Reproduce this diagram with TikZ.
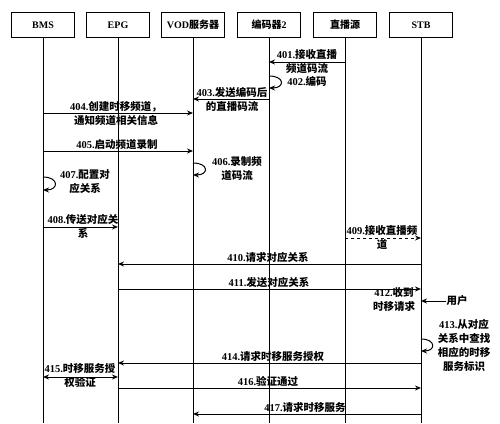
\documentclass[tikz,border=0pt]{standalone}
\usepackage{fontspec}
\setmainfont{Liberation Serif}
\newfontfamily\cjk{Noto Sans CJK SC}
\usetikzlibrary{arrows.meta,calc,positioning}
\newcommand{\nb}[1]{{\rmfamily #1}}
\tikzset{
  ent/.style={draw, line width=1pt, minimum width=63pt, minimum height=25pt, inner sep=0pt, font=\bfseries\fontsize{10}{12}\selectfont},
  life/.style={line width=1pt},
  msg/.style={line width=1pt, -{Stealth[length=6pt, width=5pt]}},
  lbl/.style={font=\bfseries\cjk\fontsize{10.5}{14}\selectfont, inner sep=0pt, align=center}
}
\begin{document}
\begin{tikzpicture}[x=1pt,y=-1pt]
  % picture size and bottom of the lifelines
  \def\ybot{423}
  \def\ytop{25}
  \useasboundingbox (0,0) rectangle (500,423);

  % boxes and lifelines
  \foreach \nm/\xx/\tx in {bms/43/BMS, epg/118/EPG, vod/193/VOD{\cjk 服务器}, enc/269/{\cjk 编码器}2, src/345/{\cjk 直播源}, stb/421/STB} {
    \node[ent] (\nm) at (\xx,\ytop) {\tx};
    \draw[life] (\nm.south) -- (\nm.south |- 0,\ybot);
  }

  % 401 - 403: encoder
  \draw[msg] (src |- 0,62) -- (enc |- 0,62);
  \node[lbl] (l401) at (307,62) {\nb{401.}接收直播\\频道码流};
  \draw[msg] (enc |- 0,76) .. controls +(16,0) and +(16,0) .. (enc |- 0,88);
  \node[lbl] (l402) at (307,81) {\nb{402.}编码};
  \draw[msg] (enc |- 0,99) -- (vod |- 0,99);
  \node[lbl] (l403) at (232,99.5) {\nb{403.}发送编码后\\的直播码流};

  % 404 - 407: channel set up
  \draw[msg] (bms |- 0,113) -- (vod |- 0,113);
  \node[lbl] (l404) at (116,113.5) {\nb{404.}创建时移频道，\\通知频道相关信息};
  \draw[msg] (bms |- 0,151) -- (vod |- 0,151);
  \node[lbl, above] (l405) at (117,150) {\nb{405.}启动频道录制};
  \draw[msg] (vod |- 0,163) .. controls +(16,0) and +(16,0) .. (vod |- 0,175);
  \node[lbl] (l406) at (237,169) {\nb{406.}录制频\\道码流};
  \draw[msg] (bms |- 0,177) .. controls +(16,0) and +(16,0) .. (bms |- 0,190);
  \node[lbl] (l407) at (85,182) {\nb{407.}配置对\\应关系};

  % 408 - 411: correspondence
  \draw[msg] (bms |- 0,227) -- (epg |- 0,227);
  \node[lbl] (l408) at (83,226.5) {\nb{408.}传送对应关\\系};
  \draw[msg, dashed] (src |- 0,238) -- (stb |- 0,238);
  \node[lbl] (l409) at (382,238) {\nb{409.}接收直播频\\道};
  \draw[msg] (stb |- 0,264) -- (epg |- 0,264);
  \node[lbl, above] (l410) at (268,263) {\nb{410.}请求对应关系};
  \draw[msg] (epg |- 0,289) -- (stb |- 0,289);
  \node[lbl, above] (l411) at (269,288) {\nb{411.}发送对应关系};

  % 412 - 417: time shift request
  \node[lbl] (usr) at (457,301) {用户};
  \draw[msg] (usr.west) -- (stb |- usr.west);
  \node[lbl] (l412) at (394,300) {\nb{412.}收到\\时移请求};
  \draw[msg] (stb |- 0,339) .. controls +(15,0) and +(15,0) .. (stb |- 0,351);
  \node[lbl] (l413) at (464,345.5) {\nb{413.}从对应\\关系中查找\\相应的时移\\服务标识};
  \draw[msg] (stb |- 0,363) -- (epg |- 0,363);
  \node[lbl, above] (l414) at (273,362) {\nb{414.}请求时移服务授权};
  \draw[{Stealth[length=6pt, width=5pt]}-{Stealth[length=6pt, width=5pt]}, line width=1pt] (bms |- 0,377) -- (epg |- 0,377);
  \node[lbl] (l415) at (80,376) {\nb{415.}时移服务授\\权验证};
  \draw[msg] (epg |- 0,388) -- (stb |- 0,388);
  \node[lbl, above] (l416) at (268,387) {\nb{416.}验证通过};
  \draw[msg] (stb |- 0,414) -- (vod |- 0,414);
  \node[lbl, above] (l417) at (305,413) {\nb{417.}请求时移服务};
\end{tikzpicture}
\end{document}
